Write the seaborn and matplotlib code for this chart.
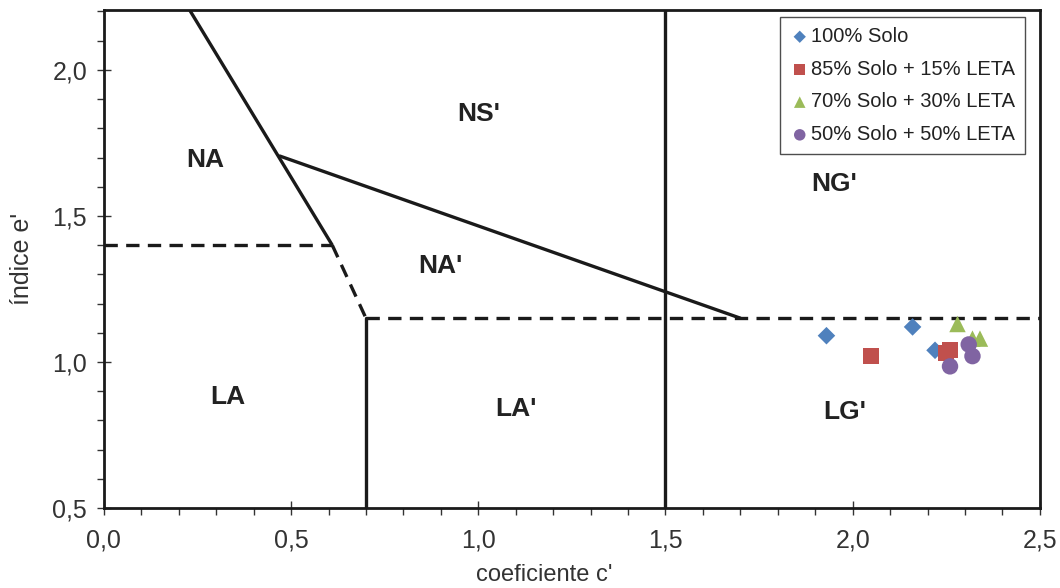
import matplotlib
matplotlib.use("Agg")
import matplotlib.pyplot as plt
from matplotlib.ticker import MultipleLocator, FuncFormatter
import seaborn as sns
import pandas as pd

sns.set_theme(style="white")
plt.rcParams["font.family"] = ["Liberation Sans", "DejaVu Sans"]

# Sample groups and their measured (c', e') pairs
groups = ["100% Solo", "85% Solo + 15% LETA", "70% Solo + 30% LETA", "50% Solo + 50% LETA"]
c_solo100 = [1.93, 2.16, 2.22]
e_solo100 = [1.09, 1.12, 1.04]
c_leta15 = [2.05, 2.25, 2.26]
e_leta15 = [1.02, 1.03, 1.04]
c_leta30 = [2.28, 2.32, 2.34]
e_leta30 = [1.13, 1.08, 1.08]
c_leta50 = [2.26, 2.31, 2.32]
e_leta50 = [0.985, 1.06, 1.02]

colors = ["#4f81bd", "#c0504d", "#9bbb59", "#8064a2"]
markers = ["D", "s", "^", "o"]
sizes = [80, 130, 140, 140]

# Class labels of the MCT chart
region_names = ["NA", "NS'", "NG'", "NA'", "LA", "LA'", "LG'"]
region_c = [0.27, 1.00, 1.95, 0.90, 0.33, 1.10, 1.98]
region_e = [1.69, 1.85, 1.61, 1.33, 0.88, 0.84, 0.83]

df = pd.DataFrame({
    "c": c_solo100 + c_leta15 + c_leta30 + c_leta50,
    "e": e_solo100 + e_leta15 + e_leta30 + e_leta50,
    "grupo": [groups[0]] * 3 + [groups[1]] * 3 + [groups[2]] * 3 + [groups[3]] * 3,
})

fig = plt.figure(figsize=(10.6, 5.88), dpi=100)
ax = fig.add_axes([0.098, 0.136, 0.883, 0.847])
ax.set_xlim(0, 2.5)
ax.set_ylim(0.5, 2.205)

lw = 2.4
k = "#1a1a1a"
# Solid boundaries
ax.plot([0.229, 0.61], [2.205, 1.40], color=k, lw=lw, solid_capstyle="butt")
ax.plot([0.47, 1.70], [1.705, 1.15], color=k, lw=lw)
ax.plot([1.5, 1.5], [0.5, 2.205], color=k, lw=lw)
ax.plot([0.70, 0.70], [0.5, 1.15], color=k, lw=lw)
# Dashed boundaries
dash = (0, (4, 2.5))
ax.plot([0, 0.61], [1.40, 1.40], color=k, lw=lw, linestyle=dash)
ax.plot([0.61, 0.70], [1.40, 1.15], color=k, lw=lw, linestyle=dash)
ax.plot([0.70, 2.5], [1.15, 1.15], color=k, lw=lw, linestyle=dash)

for name, cx, ey in zip(region_names, region_c, region_e):
    ax.text(cx, ey, name, fontsize=19, fontweight="bold", ha="center", va="center", color="#222222")

for g, col, m, s in zip(groups, colors, markers, sizes):
    sub = df[df["grupo"] == g]
    sns.scatterplot(data=sub, x="c", y="e", color=col, marker=m, s=s,
                    edgecolor="none", ax=ax, label=g, zorder=5)

leg = ax.legend(loc="upper right", bbox_to_anchor=(0.984, 0.986), borderaxespad=0,
                fontsize=14.5, frameon=True, fancybox=False, edgecolor="#222222",
                handletextpad=0.05, borderpad=0.5, labelspacing=0.68,
                handlelength=1.0, markerscale=0.7)
leg.get_frame().set_linewidth(1.0)
for t in leg.get_texts():
    t.set_color("#222222")

ax.xaxis.set_major_locator(MultipleLocator(0.5))
ax.xaxis.set_minor_locator(MultipleLocator(0.1))
ax.yaxis.set_major_locator(MultipleLocator(0.5))
ax.yaxis.set_minor_locator(MultipleLocator(0.1))
fmt = FuncFormatter(lambda v, p: f"{v:.1f}".replace(".", ","))
ax.xaxis.set_major_formatter(fmt)
ax.yaxis.set_major_formatter(fmt)
ax.tick_params(which="major", direction="inout", length=10, width=1.0, color="#333333",
               labelsize=18, labelcolor="#333333", pad=7)
ax.tick_params(axis="x", which="major", pad=10)
ax.tick_params(which="minor", direction="out", length=5, width=1.0, color="#333333")
ax.tick_params(axis="x", which="both", bottom=True)
ax.tick_params(axis="y", which="both", left=True)

for sp in ax.spines.values():
    sp.set_color("#1a1a1a")
    sp.set_linewidth(2.0)

ax.set_xlabel("coeficiente c'", fontsize=17, color="#333333")
ax.xaxis.set_label_coords(0.471, -0.113)
ax.set_ylabel("índice e'", fontsize=18, color="#333333")
ax.yaxis.set_label_coords(-0.075, 0.5)

fig.savefig("out.png", dpi=100)
